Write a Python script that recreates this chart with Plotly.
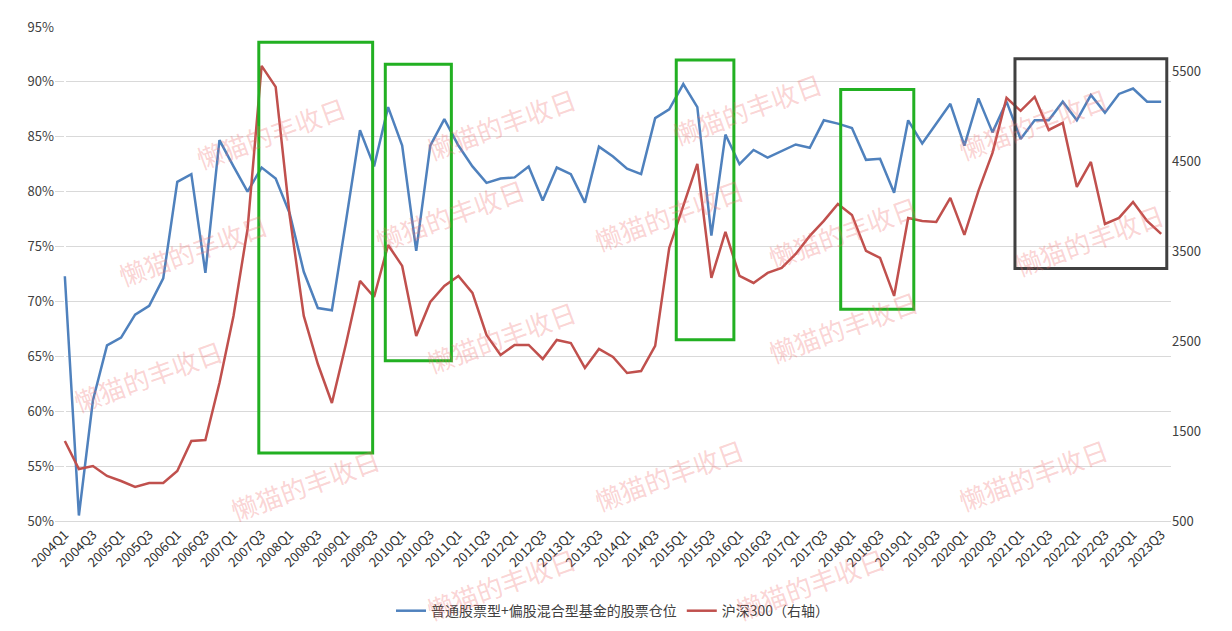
import plotly.graph_objects as go

quarters = [f"{y}Q{q}" for y in range(2004, 2024) for q in range(1, 5)][:79]

stock_pos = [72.3, 50.5, 61.0, 66.0, 66.7, 68.8, 69.6, 72.1, 80.9, 81.6,
             72.6, 84.7, 82.3, 80.0, 82.2, 81.2, 78.0, 72.7, 69.4, 69.2,
             77.3, 85.6, 82.3, 87.7, 84.2, 74.6, 84.2, 86.6, 84.2, 82.3,
             80.8, 81.2, 81.3, 82.3, 79.2, 82.2, 81.6, 79.0, 84.1, 83.2,
             82.1, 81.6, 86.7, 87.5, 89.8, 87.7, 76.0, 85.2, 82.5, 83.8,
             83.1, 83.7, 84.3, 84.0, 86.5, 86.2, 85.8, 82.9, 83.0, 79.9,
             86.5, 84.4, 86.2, 88.0, 84.2, 88.5, 85.4, 88.2, 84.8, 86.5,
             86.5, 88.2, 86.5, 88.8, 87.2, 88.9, 89.4, 88.2, 88.2]

hs300 = [1391, 1079, 1112, 1001, 945, 879, 923, 923, 1057, 1391,
         1402, 2037, 2783, 3752, 5567, 5333, 3896, 2783, 2248, 1814,
         2471, 3173, 2994, 3573, 3340, 2560, 2939, 3117, 3228, 3039,
         2571, 2349, 2460, 2460, 2304, 2516, 2482, 2204, 2415, 2326,
         2148, 2170, 2449, 3540, 4008, 4476, 3206, 3718, 3228, 3150,
         3262, 3317, 3473, 3674, 3841, 4030, 3908, 3507, 3429, 3006,
         3874, 3841, 3830, 4097, 3685, 4175, 4598, 5211, 5066, 5222,
         4854, 4932, 4219, 4498, 3807, 3874, 4052, 3841, 3696]

# highlight boxes: (x0, x1, y0, y1, colour) in category index / percent
boxes = [(13.8, 21.9, 56.2, 93.6, "#22b022"),
         (22.8, 27.5, 64.6, 91.6, "#22b022"),
         (43.5, 47.6, 66.5, 92.0, "#22b022"),
         (55.2, 60.4, 69.3, 89.3, "#22b022"),
         (67.6, 78.4, 73.0, 92.1, "#404040")]

idx = list(range(len(quarters)))

fig = go.Figure()
fig.add_trace(go.Scatter(x=idx, y=stock_pos, mode="lines",
                         name="普通股票型+偏股混合型基金的股票仓位",
                         line=dict(color="#4f81bd", width=2.5)))
fig.add_trace(go.Scatter(x=idx, y=hs300, mode="lines", yaxis="y2",
                         name="沪深300（右轴）",
                         line=dict(color="#c0504d", width=2.5)))

for x0, x1, y0, y1, c in boxes:
    fig.add_shape(type="rect", xref="x", yref="y", x0=x0, x1=x1, y0=y0, y1=y1,
                  line=dict(color=c, width=3))

# watermark
marks = [(0.12, 0.88), (0.40, 0.90), (0.62, 0.93), (0.95, 0.90),
         (0.05, 0.55), (0.28, 0.62), (0.55, 0.62), (0.78, 0.68), (1.00, 0.57),
         (0.01, 0.20), (0.40, 0.28), (0.78, 0.30), (0.15, -0.02), (0.55, 0.0),
         (0.95, 0.0), (0.40, -0.22), (0.75, -0.22)]
for mx, my in marks:
    fig.add_annotation(x=mx, y=my, xref="paper", yref="paper", text="懒猫的丰收日",
                       showarrow=False, textangle=-20,
                       font=dict(size=26, color="rgba(240,110,110,0.3)",
                                 family="Noto Sans CJK SC"))

fig.update_layout(
    width=1232, height=631,
    margin=dict(l=47, r=69, t=19, b=111),
    plot_bgcolor="white", paper_bgcolor="white",
    font=dict(family="Noto Sans CJK SC, DejaVu Sans", size=13, color="#404040"),
    xaxis=dict(range=[-0.7, 78.7], tickmode="array", tickvals=idx[::2],
               ticktext=quarters[::2], tickangle=-45, showgrid=False,
               showline=True, linecolor="#d9d9d9", automargin=False,
               tickfont=dict(size=13, color="#303030")),
    yaxis=dict(range=[50, 95], dtick=5, ticksuffix="%", gridcolor="#d9d9d9",
               zeroline=False, automargin=False),
    yaxis2=dict(range=[500, 6000], tickvals=[500, 1500, 2500, 3500, 4500, 5500],
                overlaying="y", side="right", showgrid=False, zeroline=False,
                automargin=False),
    legend=dict(orientation="h", x=0.5, xanchor="center", y=-0.15, yanchor="top",
                font=dict(size=14)),
)

fig.write_html("out.html")
